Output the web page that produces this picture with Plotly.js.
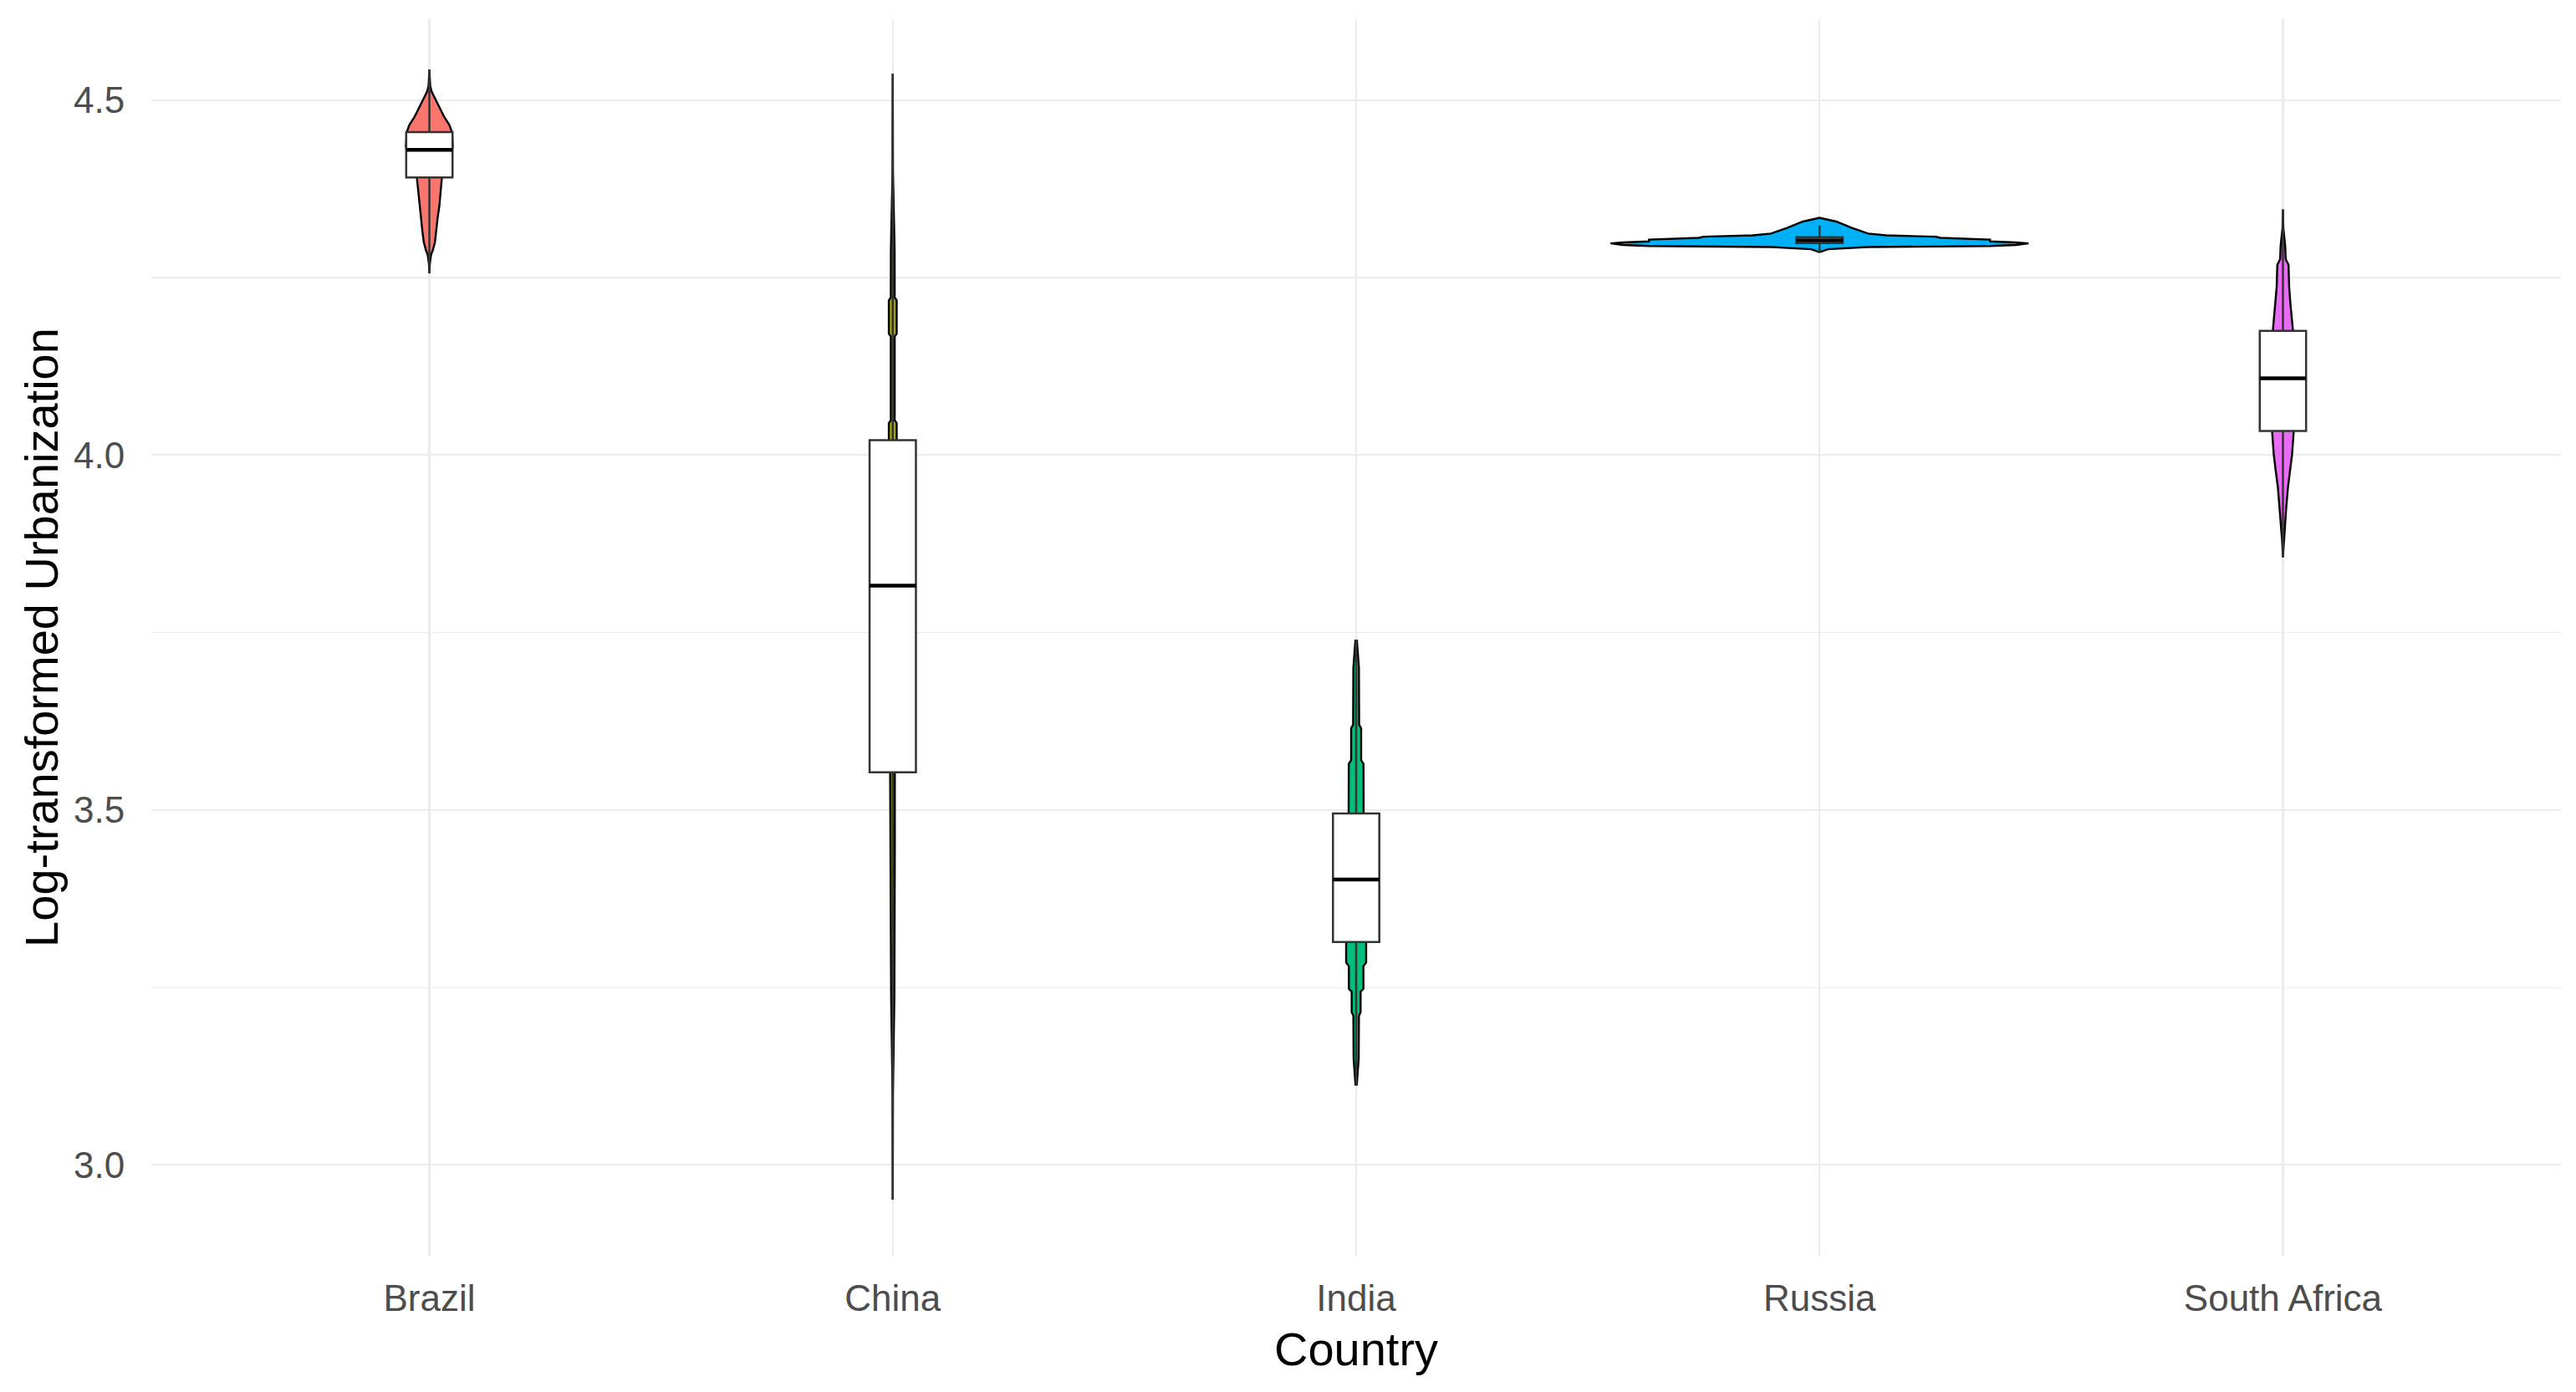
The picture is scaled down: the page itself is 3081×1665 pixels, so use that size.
<!DOCTYPE html>
<html>
<head>
<meta charset="utf-8">
<script src="https://cdn.plot.ly/plotly-3.0.1.min.js"></script>
<style>html,body{margin:0;padding:0;background:#fff;}#chart{width:3081px;height:1665px;}</style>
</head>
<body>
<div id="chart"></div>
<script>
// ---- data ----
const countries = ["Brazil", "China", "India", "Russia", "South Africa"];
const fillColors = ["#F8766D", "#A3A500", "#00BF7D", "#00B0F6", "#E76BF3"];

// box-plot statistics (log-transformed urbanization)
const q1Vals      = [4.391, 3.553, 3.314, 4.2985, 4.034];
const medianVals  = [4.430, 3.816, 3.402, 4.3025, 4.108];
const q3Vals      = [4.455, 4.021, 3.495, 4.3068, 4.175];
const lowerVals   = [4.256, 2.951, 3.113, 4.2859, 3.856];
const upperVals   = [4.543, 4.537, 3.740, 4.3233, 4.346];

// violin density profiles: y levels and half-widths (x data units)
const brazilY = [4.543, 4.530, 4.520, 4.512, 4.500, 4.488, 4.476, 4.465, 4.455, 4.435, 4.410, 4.391, 4.374, 4.351, 4.335, 4.315, 4.300, 4.288, 4.282, 4.270, 4.256];
const brazilW = [0.0000, 0.0005, 0.0018, 0.0049, 0.0144, 0.0234, 0.0324, 0.0433, 0.0487, 0.0505, 0.0433, 0.0270, 0.0247, 0.0216, 0.0180, 0.0150, 0.0121, 0.0072, 0.0036, 0.0011, 0.0000];

const chinaY = [4.537, 4.400, 4.289, 4.222, 4.218, 4.171, 4.167, 4.049, 4.045, 4.000, 3.900, 3.800, 3.700, 3.600, 3.553, 3.450, 3.333, 3.300, 3.237, 3.100, 2.951];
const chinaW = [0.0000, 0.0005, 0.0040, 0.0042, 0.0085, 0.0085, 0.0042, 0.0042, 0.0085, 0.0085, 0.0085, 0.0085, 0.0085, 0.0060, 0.0045, 0.0045, 0.0043, 0.0038, 0.0035, 0.0005, 0.0000];

const indiaY = [3.740, 3.700, 3.620, 3.615, 3.570, 3.565, 3.495, 3.400, 3.314, 3.285, 3.280, 3.248, 3.244, 3.215, 3.210, 3.150, 3.113];
const indiaW = [0.0015, 0.0060, 0.0065, 0.0108, 0.0108, 0.0159, 0.0162, 0.0198, 0.0216, 0.0216, 0.0157, 0.0157, 0.0096, 0.0096, 0.0060, 0.0055, 0.0015];

const russiaY = [4.2859, 4.2900, 4.2930, 4.2945, 4.2960, 4.2982, 4.2995, 4.3010, 4.3036, 4.3060, 4.3076, 4.3095, 4.3120, 4.3200, 4.3290, 4.3342];
const russiaW = [0.000, 0.018, 0.103, 0.368, 0.424, 0.451, 0.424, 0.368, 0.368, 0.261, 0.251, 0.144, 0.105, 0.070, 0.036, 0.000];

const safricaY = [4.346, 4.320, 4.294, 4.276, 4.268, 4.237, 4.213, 4.197, 4.176, 4.100, 4.034, 4.001, 3.981, 3.954, 3.926, 3.907, 3.880, 3.856];
const safricaW = [0.0000, 0.0009, 0.0050, 0.0060, 0.0121, 0.0135, 0.0162, 0.0189, 0.0216, 0.0234, 0.0234, 0.0198, 0.0162, 0.0108, 0.0072, 0.0050, 0.0018, 0.0000];

const yTickVals = [3.0, 3.5, 4.0, 4.5];
const yTickText = ["3.0", "3.5", "4.0", "4.5"];
const yMinorVals = [3.25, 3.75, 4.25];

// ---- build traces ----
const profilesY = [brazilY, chinaY, indiaY, russiaY, safricaY];
const profilesW = [brazilW, chinaW, indiaW, russiaW, safricaW];
const positions = countries.map((c, i) => i + 1);
const boxWidth = 0.1;

const traces = [];
countries.forEach((c, i) => {
  const ys = profilesY[i], ws = profilesW[i], p = positions[i];
  const xr = ws.map(w => p + w);
  const xl = ws.map(w => p - w).reverse();
  const yl = ys.slice().reverse();
  traces.push({
    type: "scatter", mode: "lines", name: c,
    x: xr.concat(xl), y: ys.concat(yl),
    fill: "toself", fillcolor: fillColors[i],
    line: {color: "#000000", width: 2.4},
    hoverinfo: "name", showlegend: false,
    xaxis: "x", yaxis: "y"
  });
});

traces.push({
  type: "box", name: "box",
  x: positions, q1: q1Vals, median: medianVals, q3: q3Vals,
  lowerfence: lowerVals, upperfence: upperVals,
  width: boxWidth, whiskerwidth: 0, boxpoints: false,
  fillcolor: "#FFFFFF", line: {color: "#333333", width: 2.5},
  showlegend: false, xaxis: "x2", yaxis: "y2"
});

const medX = [], medY = [];
positions.forEach((p, i) => {
  medX.push(p - boxWidth / 2, p + boxWidth / 2, null);
  medY.push(medianVals[i], medianVals[i], null);
});
traces.push({
  type: "scatter", mode: "lines", x: medX, y: medY,
  line: {color: "#000000", width: 4.5}, hoverinfo: "skip",
  showlegend: false, xaxis: "x2", yaxis: "y2"
});

const xRange = [0.4, 5.6];
const yRange = [2.872, 4.614];
const fontFam = "Liberation Sans, Arial, sans-serif";

const layout = {
  width: 3081, height: 1665,
  paper_bgcolor: "#FFFFFF", plot_bgcolor: "#FFFFFF",
  margin: {l: 181, r: 18, t: 23, b: 163},
  showlegend: false,
  font: {family: fontFam},
  xaxis: {
    range: xRange, tickmode: "array", tickvals: positions, ticktext: countries,
    showgrid: true, gridcolor: "#EBEBEB", gridwidth: 2.2,
    zeroline: false, showline: false,
    ticks: "outside", ticklen: 12, tickcolor: "rgba(0,0,0,0)",
    tickfont: {size: 44, color: "#4D4D4D", family: fontFam},
    title: {text: "Country", font: {size: 56, color: "#000000", family: fontFam}, standoff: 18},
    automargin: false
  },
  yaxis: {
    range: yRange, tickmode: "array", tickvals: yTickVals, ticktext: yTickText,
    showgrid: true, gridcolor: "#EBEBEB", gridwidth: 2.2,
    minor: {tickmode: "array", tickvals: yMinorVals, showgrid: true, gridcolor: "#EBEBEB", gridwidth: 1.1, ticks: ""},
    zeroline: false, showline: false,
    ticks: "outside", ticklen: 22, tickcolor: "rgba(0,0,0,0)",
    tickfont: {size: 44, color: "#4D4D4D", family: fontFam},
    title: {text: "Log-transformed Urbanization", font: {size: 56, color: "#000000", family: fontFam}, standoff: 0},
    automargin: false
  },
  xaxis2: {range: xRange, overlaying: "x", anchor: "y2", visible: false, showgrid: false, zeroline: false},
  yaxis2: {range: yRange, overlaying: "y", anchor: "x2", visible: false, showgrid: false, zeroline: false}
};

Plotly.newPlot("chart", traces, layout, {displayModeBar: false, staticPlot: true});
</script>
</body>
</html>
